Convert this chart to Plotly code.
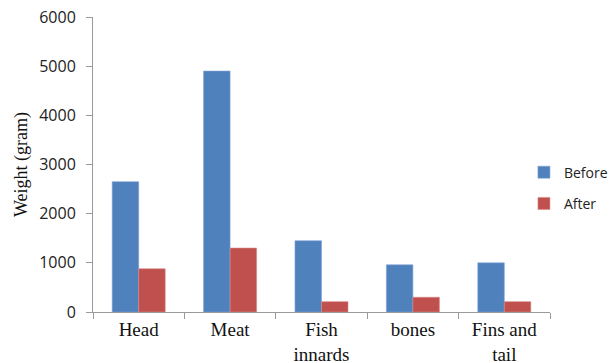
import plotly.graph_objects as go

categories = ["Head", "Meat", "Fish<br>innards", "bones", "Fins and<br>tail"]
before = [2650, 4900, 1450, 960, 1000]
after = [880, 1300, 210, 300, 210]
y_ticks = [0, 1000, 2000, 3000, 4000, 5000, 6000]

fig = go.Figure()
fig.add_trace(go.Bar(name="Before", x=categories, y=before,
                     marker=dict(color="#4F81BD", line=dict(color="#7FA3D4", width=0.6)),
                     legendgroup="b"))
fig.add_trace(go.Bar(name="After", x=categories, y=after,
                     marker=dict(color="#C0504D", line=dict(color="#D88A88", width=0.6)),
                     legendgroup="a"))

fig.update_layout(
    width=611, height=363,
    margin=dict(l=93, r=61, t=17, b=51, autoexpand=False),
    paper_bgcolor="white", plot_bgcolor="white",
    barmode="group", bargap=0.42, bargroupgap=0,
    showlegend=True,
    legend=dict(x=0.943, xanchor="left", y=0.42, yanchor="middle",
                font=dict(family="Open Sans, Liberation Sans, sans-serif", size=14, color="#222"),
                tracegroupgap=10, traceorder="grouped",
                itemwidth=30, bgcolor="rgba(0,0,0,0)"),
    xaxis=dict(
        tickson="boundaries", ticks="outside", ticklen=6, tickcolor="#9a9a9a",
        showline=True, linecolor="#9a9a9a", linewidth=1,
        tickfont=dict(family="Liberation Serif, Times New Roman, serif", size=19, color="#111"),
        range=[-0.5, 4.5], showgrid=False, automargin=False,
    ),
    yaxis=dict(
        range=[0, 6000], tickvals=y_ticks, ticks="outside", ticklen=6,
        tickcolor="#9a9a9a", showline=True, linecolor="#9a9a9a", linewidth=1,
        showgrid=False, zeroline=False, automargin=False,
        ticklabelstandoff=7,
        tickfont=dict(family="Open Sans, Liberation Sans, sans-serif", size=16, color="#222"),
        title=dict(text="Weight (gram)", standoff=6,
                   font=dict(family="Liberation Serif, Times New Roman, serif", size=18, color="#111")),
    ),
)

fig.write_html("out.html")
